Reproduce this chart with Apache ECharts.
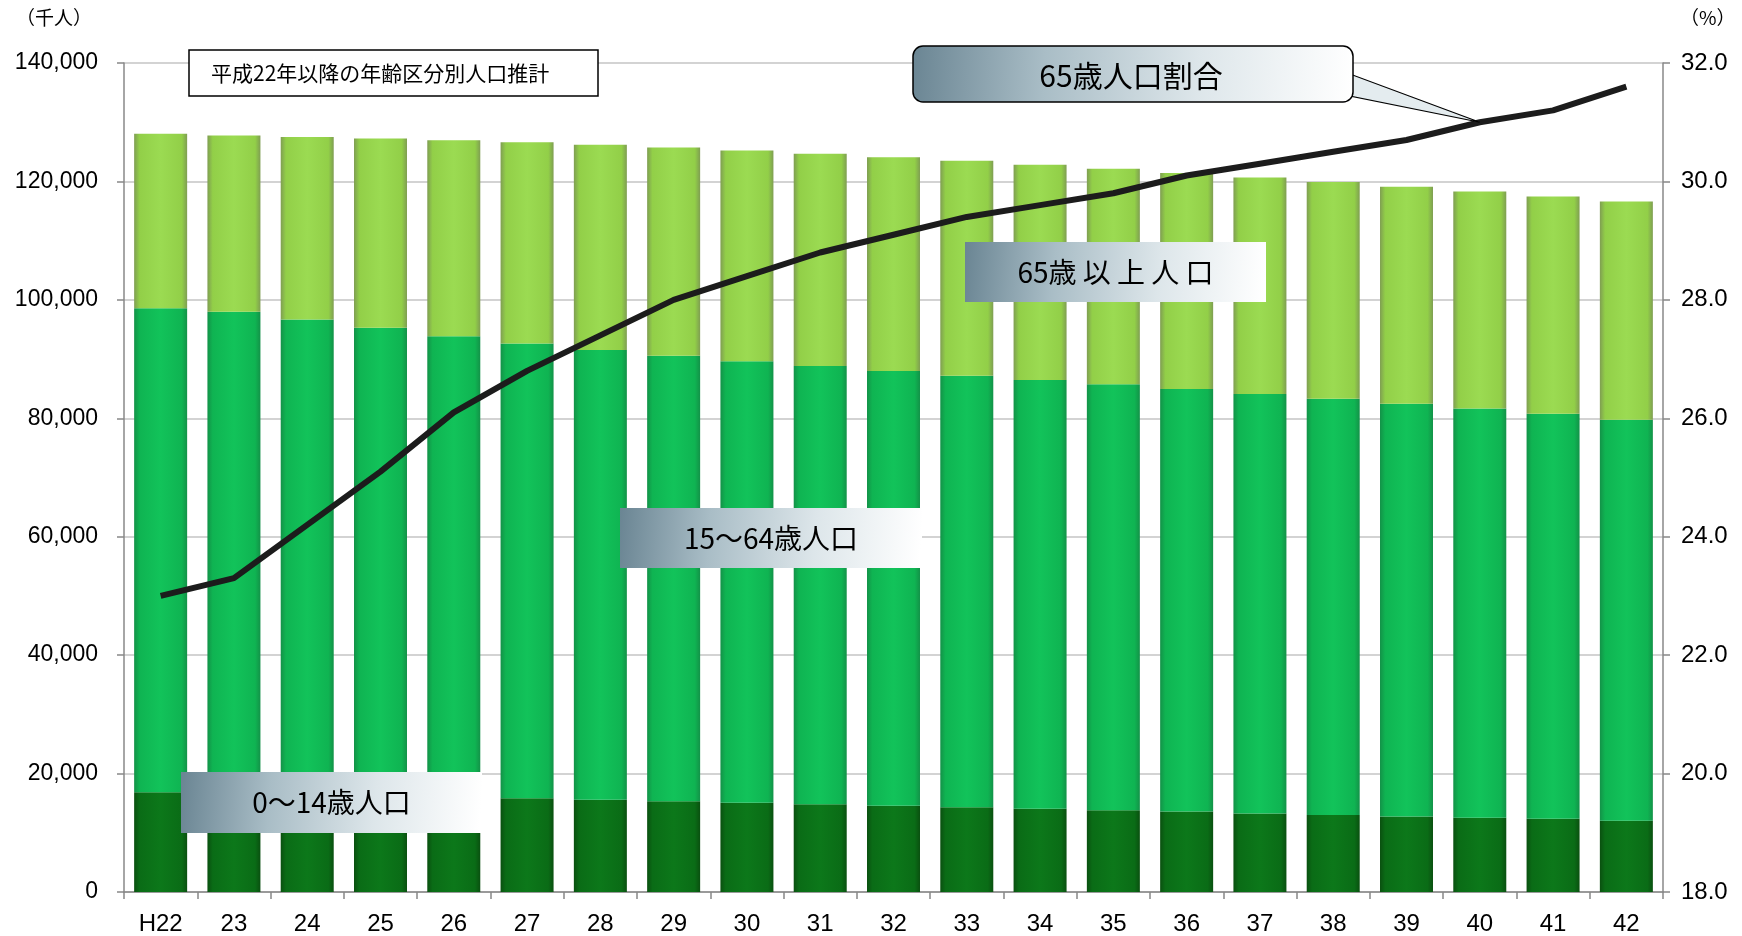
<!DOCTYPE html>
<html>
<head>
<meta charset="utf-8">
<script src="https://cdn.jsdelivr.net/npm/echarts@6/dist/echarts.min.js"></script>
<style>
html,body{margin:0;padding:0;background:#fff;}
#chart{width:1742px;height:936px;}
</style>
</head>
<body>
<div id="chart"></div>
<script>
const categories = ['H22','23','24','25','26','27','28','29','30','31','32','33','34','35','36','37','38','39','40','41','42'];
const pop0to14 = [16839,16685,16493,16281,16067,15827,15574,15311,15056,14801,14568,14318,14073,13826,13580,13240,12997,12768,12547,12350,12039];
const pop15to64 = [81735,81303,80173,78996,77803,76818,75979,75245,74584,74011,73408,72866,72408,71920,71369,70845,70305,69697,69086,68413,67730];
const pop65plus = [29484,29764,30831,31971,33080,33952,34640,35182,35596,35877,36124,36290,36332,36376,36454,36573,36589,36637,36660,36702,36849];
const ratio65 = [23.0,23.3,24.2,25.1,26.1,26.8,27.4,28.0,28.4,28.8,29.1,29.4,29.6,29.8,30.1,30.3,30.5,30.7,31.0,31.2,31.6];
const leftTicks = {min:0, max:140000, interval:20000};
const rightTicks = {min:18, max:32, interval:2};

const FONT = "'Liberation Sans', Arial, 'Noto Sans CJK JP', sans-serif";
const JFONT = "'Noto Sans CJK JP', 'Liberation Sans', sans-serif";

function hGrad(edge, mid, center){
  return new echarts.graphic.LinearGradient(0,0,1,0,[
    {offset:0,color:edge},{offset:0.1,color:mid},{offset:0.5,color:center},{offset:0.9,color:mid},{offset:1,color:edge}
  ]);
}
function boxGrad(){
  return new echarts.graphic.LinearGradient(0,0,1,0.4,[
    {offset:0,color:'#6a8593'},{offset:0.3,color:'#a9bdc6'},{offset:0.65,color:'#dde6ea'},{offset:1,color:'#ffffff'}
  ]);
}

const chart = echarts.init(document.getElementById('chart'));
const barW = 53;
const option = {
  animation:false,
  grid:{left:124,right:79,top:63,bottom:44},
  xAxis:{
    type:'category', data:categories,
    axisLine:{lineStyle:{color:'#888',width:1.5}},
    axisTick:{show:true,length:7,lineStyle:{color:'#888',width:1.5}},
    axisLabel:{color:'#000',fontSize:24,fontFamily:FONT,margin:20}
  },
  yAxis:[
    {type:'value',min:leftTicks.min,max:leftTicks.max,interval:leftTicks.interval,
     axisLine:{show:true,lineStyle:{color:'#888',width:1.5}},
     axisTick:{show:true,length:7,lineStyle:{color:'#888',width:1.5}},
     splitLine:{show:true,lineStyle:{color:'#c4c4c4',width:1.5}},
     axisLabel:{color:'#000',fontSize:23,fontFamily:FONT,margin:26,
       formatter:v=>String(v).replace(/\B(?=(\d{3})+(?!\d))/g,',')}},
    {type:'value',min:rightTicks.min,max:rightTicks.max,interval:rightTicks.interval,
     axisLine:{show:true,lineStyle:{color:'#888',width:1.5}},
     axisTick:{show:true,length:7,lineStyle:{color:'#888',width:1.5}},
     splitLine:{show:false},
     axisLabel:{color:'#000',fontSize:24,fontFamily:FONT,margin:18,formatter:v=>v.toFixed(1)}}
  ],
  series:[
    {name:'0〜14歳人口',type:'bar',stack:'p',data:pop0to14,barWidth:barW,
     itemStyle:{color:hGrad('#0a5010','#0a6c16','#0c781a')}},
    {name:'15〜64歳人口',type:'bar',stack:'p',data:pop15to64,barWidth:barW,
     itemStyle:{color:hGrad('#139248','#0fb452','#12c35a')}},
    {name:'65歳以上人口',type:'bar',stack:'p',data:pop65plus,barWidth:barW,
     itemStyle:{color:hGrad('#7f9e52','#92cf48','#9bdb52')}},
    {name:'65歳人口割合',type:'line',yAxisIndex:1,data:ratio65,symbol:'none',z:10,
     lineStyle:{color:'#1c1c1c',width:6}}
  ]
};
chart.setOption(option);

const tip = chart.convertToPixel({xAxisIndex:0,yAxisIndex:1},[18, ratio65[18]]);

function labelBox(x,y,w,h,text,size){
  return [
    {type:'rect',shape:{x:x,y:y,width:w,height:h},style:{fill:boxGrad()},z:100},
    {type:'text',x:x+w/2,y:y+h/2,z:101,style:{text:text,font:'normal '+size+'px '+JFONT,fill:'#000',align:'center',verticalAlign:'middle'}}
  ];
}

chart.setOption({graphic:[
  {type:'text',left:16,top:8,style:{text:'（千人）',font:'19px '+JFONT,fill:'#000'}},
  {type:'text',left:1680,top:8,style:{text:'（%）',font:'19px '+JFONT,fill:'#000'}},
  {type:'rect',shape:{x:189,y:50,width:409,height:46},style:{fill:'#fff',stroke:'#000',lineWidth:1.5},z:100},
  {type:'text',x:211,y:73,z:101,style:{text:'平成22年以降の年齢区分別人口推計',font:'21px '+JFONT,fill:'#000',verticalAlign:'middle'}},
  {type:'polygon',shape:{points:[[1350,74],[1350,96],tip]},style:{fill:'#e4ecef',stroke:'#000',lineWidth:1.2},z:99},
  {type:'rect',shape:{x:913,y:46,width:440,height:56,r:10},style:{fill:boxGrad(),stroke:'#000',lineWidth:1.5},z:100},
  {type:'text',x:1131,y:76,z:101,style:{text:'65歳人口割合',font:'30px '+JFONT,fill:'#000',align:'center',verticalAlign:'middle'}},
  ...labelBox(965,242,301,60,'65歳 以 上 人 口',28),
  ...labelBox(620,508,302,60,'15〜64歳人口',28),
  ...labelBox(181,772,301,61,'0〜14歳人口',28)
]});
</script>
</body>
</html>
